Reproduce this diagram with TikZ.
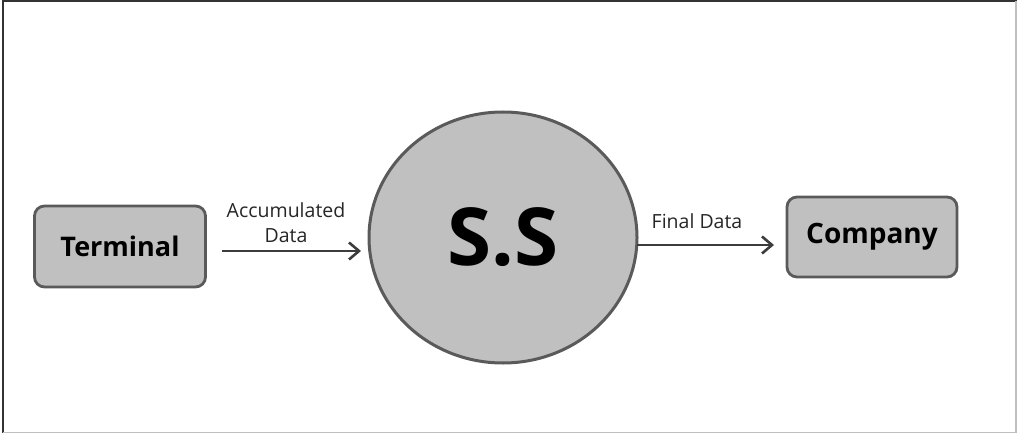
\documentclass[tikz,border=0pt]{standalone}
\usepackage{fontspec}
\setmainfont{Open Sans}
\usetikzlibrary{arrows.meta,shapes.geometric}
\definecolor{boxfill}{RGB}{192,192,192}
\definecolor{boxline}{RGB}{90,90,90}
\definecolor{arrowc}{RGB}{60,60,60}
\tikzset{
  procbox/.style={draw=boxline, line width=2.8pt, fill=boxfill, rounded corners=10pt, font=\bfseries\fontsize{27}{30}\selectfont, inner sep=0pt},
  flow/.style={draw=arrowc, line width=2.6pt, -{Straight Barb[length=10pt,width=17pt,line width=2.6pt]}},
  flowlabel/.style={font=\fontsize{19.5}{25}\selectfont, text=black!85, align=center, inner sep=0pt}
}
\begin{document}
\begin{tikzpicture}[x=1pt,y=-1pt]
\useasboundingbox (0,0) rectangle (1017,433);
\draw[line width=2pt, draw=black!80] (3,433) -- (3,1.5) -- (1017,1.5);
\draw[line width=1.5pt, draw=black!25] (1016,1.5) -- (1016,432.5) -- (3,432.5);
\node[procbox, minimum width=171pt, minimum height=81pt] (term) at (120,246.5) {Terminal};
\node[procbox, minimum width=170pt, minimum height=80pt, font=\bfseries\fontsize{28}{30}\selectfont] (comp) at (872,237) {Company};
\node[ellipse, draw=boxline, line width=3pt, fill=boxfill, minimum width=268pt, minimum height=251pt, inner sep=0pt, font=\bfseries\fontsize{80}{80}\selectfont] (ss) at (503,237.5) {S.S};
\coordinate (a1s) at (222,251);
\coordinate (a1e) at (361,251);
\draw[flow] (a1s) -- (a1e);
\node[flowlabel] (l1) at (286,223) {Accumulated\\Data};
\coordinate (a2s) at (637,245);
\coordinate (a2e) at (774,245);
\draw[flow] (a2s) -- (a2e);
\node[flowlabel] (l2) at (697,221) {Final Data};
\end{tikzpicture}
\end{document}
